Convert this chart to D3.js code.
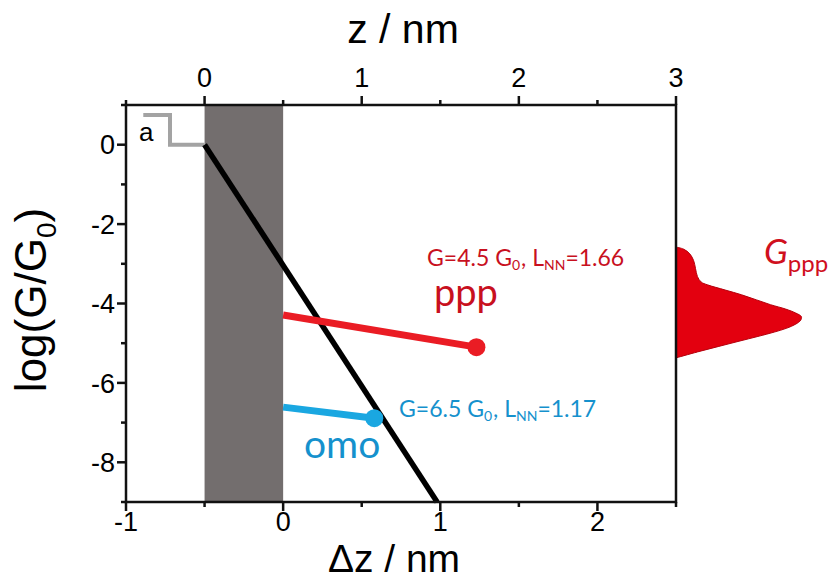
<!DOCTYPE html>
<html>
<head>
<meta charset="utf-8">
<script src="https://cdn.jsdelivr.net/npm/d3@7"></script>
<style>
  body { margin: 0; background: #fff; }
  text { font-family: "Liberation Sans", Arial, sans-serif; }
  .note { font-family: Lato, "Open Sans", sans-serif; }
</style>
</head>
<body>
<div id="chart"></div>
<script>
// tick values
var dzMajor = [-1, 0, 1, 2], dzMinor = [-0.5, 0.5, 1.5, 2.5];
var zMajor = [0, 1, 2, 3], zMinor = [-0.5, 0.5, 1.5, 2.5];
var logMajor = [0, -2, -4, -6, -8], logMinor = [1, -1, -3, -5, -7, -9];

// electrode slab and curves (dz, log G/G0)
var slab = [-0.5, 0];
var decay = [[-0.5, 0], [0.98, -9]];
var stepTrace = [[-0.5, 0], [-0.72, 0], [-0.72, 0.75], [-0.89, 0.75]];
var pppLine = [[0, -4.29], [1.23, -5.10]];
var omoLine = [[0, -6.61], [0.58, -6.89]];

// conductance histogram of ppp (log G/G0, relative counts)
var histLog = [-2.58, -2.63, -2.75, -2.92, -3.12, -3.32, -3.46, -3.53, -3.66, -3.78, -3.91, -4.03,
               -4.14, -4.24, -4.33, -4.42, -4.52, -4.62, -4.72, -4.83, -4.95, -5.08, -5.22, -5.37];
var histCount = [0, 0.06, 0.11, 0.14, 0.155, 0.17, 0.2, 0.25, 0.39, 0.52, 0.64, 0.75,
                 0.87, 0.95, 0.995, 0.99, 0.95, 0.88, 0.78, 0.65, 0.5, 0.34, 0.17, 0];

var WIDTH = 837, HEIGHT = 579;
var L = 126, R = 676, T = 105, B = 502;

var svg = d3.select("#chart").append("svg")
    .attr("width", WIDTH)
    .attr("height", HEIGHT);

var x = d3.scaleLinear().domain([-1, 2.5]).range([L, R]);
var xTop = d3.scaleLinear().domain([-0.5, 3]).range([L, R]);
var y = d3.scaleLinear().domain([-9, 1]).range([B, T]);
var hx = d3.scaleLinear().domain([0, 1]).range([R, 802]);

var line = d3.line()
    .x(function (d) { return x(d[0]); })
    .y(function (d) { return y(d[1]); });

// gray slab
svg.append("rect")
    .attr("x", x(slab[0]))
    .attr("y", T)
    .attr("width", x(slab[1]) - x(slab[0]))
    .attr("height", B - T)
    .attr("fill", "#736e6e");

// histogram on the right
var hist = histLog.map(function (v, i) { return [v, histCount[i]]; });
svg.append("path")
    .datum(hist)
    .attr("d", d3.area()
        .y(function (d) { return y(d[0]); })
        .x0(R)
        .x1(function (d) { return hx(d[1]); })
        .curve(d3.curveCatmullRom))
    .attr("fill", "#e3000f")
    .attr("stroke", "#b5000c")
    .attr("stroke-width", 1);

svg.append("path").datum(stepTrace).attr("d", line)
    .attr("fill", "none").attr("stroke", "#a3a3a3").attr("stroke-width", 4);

svg.append("path").datum(decay).attr("d", line)
    .attr("fill", "none").attr("stroke", "#000").attr("stroke-width", 5.5);

function series(data, color) {
    svg.append("path").datum(data).attr("d", line)
        .attr("fill", "none").attr("stroke", color).attr("stroke-width", 7);
    var last = data[data.length - 1];
    svg.append("circle")
        .attr("cx", x(last[0])).attr("cy", y(last[1]))
        .attr("r", 9).attr("fill", color);
}
series(pppLine, "#ea1c24");
series(omoLine, "#1aa7e1");

// frame
var axisColor = "#111";
svg.append("rect")
    .attr("x", L).attr("y", T).attr("width", R - L).attr("height", B - T)
    .attr("fill", "none").attr("stroke", axisColor).attr("stroke-width", 2.5);

function ticks(vals, len, orient) {
    vals.forEach(function (v) {
        var l = svg.append("line").attr("stroke", axisColor).attr("stroke-width", 2.5);
        if (orient === "bottom") l.attr("x1", x(v)).attr("x2", x(v)).attr("y1", B).attr("y2", B + len);
        if (orient === "top") l.attr("x1", xTop(v)).attr("x2", xTop(v)).attr("y1", T).attr("y2", T - len);
        if (orient === "left") l.attr("y1", y(v)).attr("y2", y(v)).attr("x1", L).attr("x2", L - len);
    });
}
ticks(dzMajor, 9, "bottom"); ticks(dzMinor, 5, "bottom");
ticks(zMajor, 9, "top"); ticks(zMinor, 5, "top");
ticks(logMajor, 9, "left"); ticks(logMinor, 5, "left");

var tickSize = 27;
svg.selectAll(".tb").data(dzMajor).enter().append("text")
    .attr("x", function (d) { return x(d); }).attr("y", 531)
    .attr("text-anchor", "middle").attr("font-size", tickSize)
    .text(function (d) { return d; });
svg.selectAll(".tt").data(zMajor).enter().append("text")
    .attr("x", function (d) { return xTop(d); }).attr("y", 87)
    .attr("text-anchor", "middle").attr("font-size", tickSize)
    .text(function (d) { return d; });
svg.selectAll(".tl").data(logMajor).enter().append("text")
    .attr("x", 115).attr("y", function (d) { return y(d); }).attr("dy", "0.36em")
    .attr("text-anchor", "end").attr("font-size", tickSize)
    .text(function (d) { return d; });

// axis titles
svg.append("text").attr("x", 403).attr("y", 43).attr("text-anchor", "middle")
    .attr("font-size", 41).text("z / nm");
svg.append("text").attr("x", 394).attr("y", 572).attr("text-anchor", "middle")
    .attr("font-size", 39).text("Δz / nm");
var yt = svg.append("text").attr("transform", "translate(46,300) rotate(-90)")
    .attr("text-anchor", "middle").attr("font-size", 44);
yt.append("tspan").text("log(G/G");
yt.append("tspan").attr("font-size", 28).attr("dy", 10).text("0");
yt.append("tspan").attr("dy", -10).text(")");

svg.append("text").attr("x", 139).attr("y", 141).attr("font-size", 26).text("a");

// annotations
function note(xp, yp, color, g, lnn) {
    var t = svg.append("text").attr("class", "note").attr("x", xp).attr("y", yp)
        .attr("fill", color).attr("font-size", 23);
    t.append("tspan").text("G=" + g + " G");
    t.append("tspan").attr("font-size", 14).attr("dy", 4).text("0");
    t.append("tspan").attr("dy", -4).attr("dx", 1).text(", L");
    t.append("tspan").attr("font-size", 14).attr("dy", 4).text("NN");
    t.append("tspan").attr("dy", -4).text("=" + lnn);
}
note(427, 266, "#c8101e", "4.5", "1.66");
note(399, 417, "#1591cd", "6.5", "1.17");

svg.append("text").attr("class", "note").attr("x", 434).attr("y", 306)
    .attr("fill", "#c8101e").attr("font-size", 38).text("ppp");
svg.append("text").attr("class", "note").attr("x", 304).attr("y", 458)
    .attr("fill", "#1591cd").attr("font-size", 39).text("omo");

var gl = svg.append("text").attr("class", "note").attr("x", 764).attr("y", 264)
    .attr("fill", "#d0101e").attr("font-size", 35);
gl.append("tspan").attr("font-style", "italic").text("G");
gl.append("tspan").attr("font-size", 24).attr("dy", 8).text("ppp");
</script>
</body>
</html>
